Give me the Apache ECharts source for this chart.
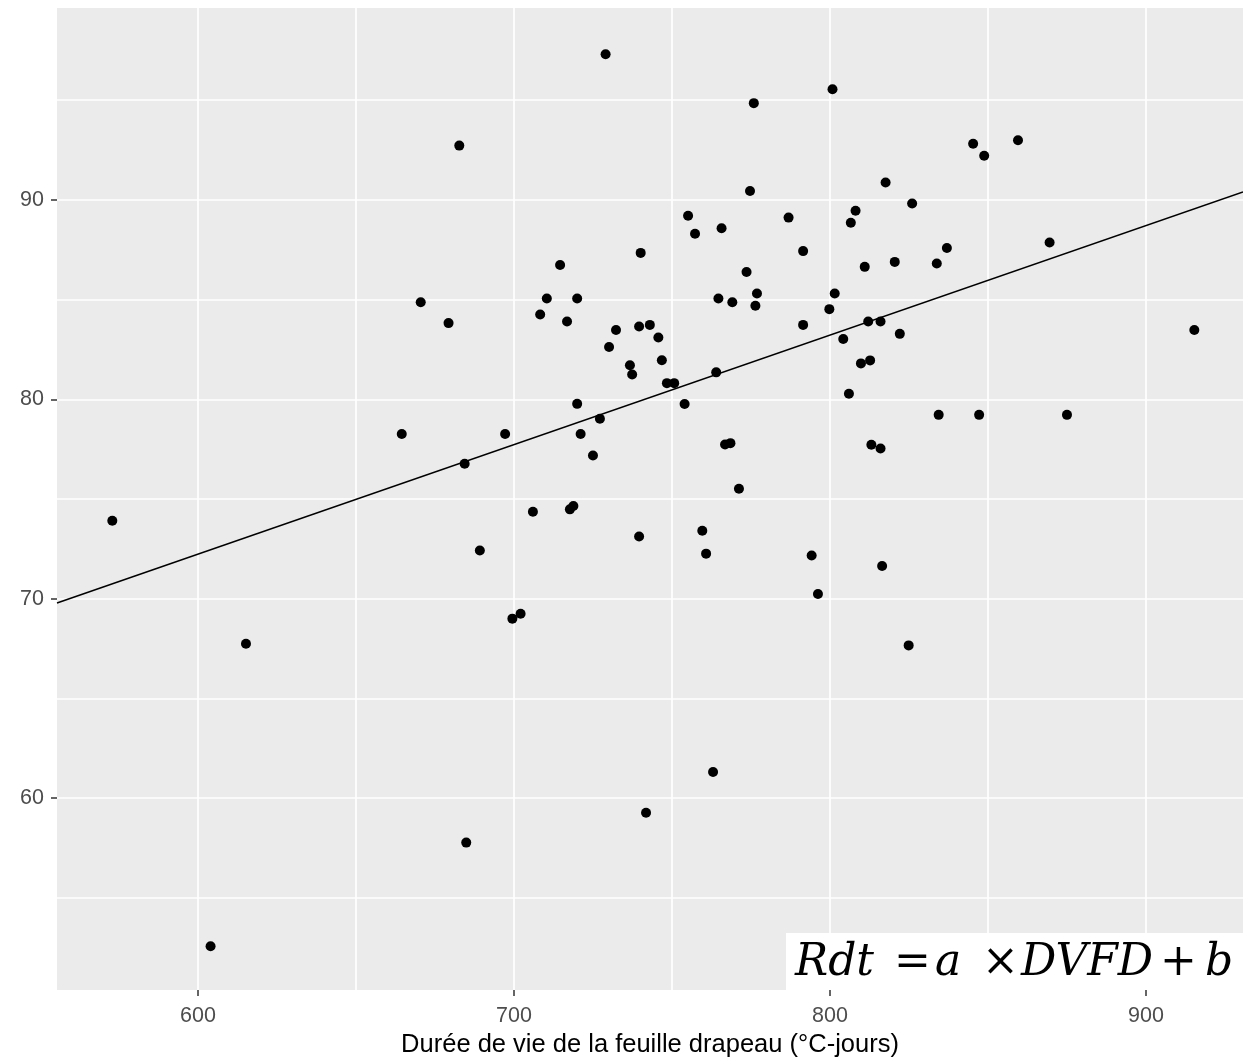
<!DOCTYPE html>
<html>
<head>
<meta charset="utf-8">
<title>Rendement et durée de vie de la feuille drapeau</title>
<script src="https://cdn.jsdelivr.net/npm/echarts@6/dist/echarts.min.js"></script>
<style>
  html, body { margin: 0; padding: 0; background: #ffffff; }
  #chart { width: 1243px; height: 1060px; }
</style>
</head>
<body>
<div id="chart"></div>
<script>
// Durée de vie de la feuille drapeau (°C-jours)
const dvfd = [
  729.0, 682.7, 775.9, 774.7, 755.1, 757.3, 765.7, 786.9, 791.5, 740.1,
  714.6, 773.6, 776.9, 776.4, 764.7, 769.1, 791.5, 670.5, 679.3, 710.4,
  720.0, 708.3, 716.8, 732.3, 739.6, 743.0, 745.7, 730.1, 800.8, 845.3,
  848.8, 859.5, 817.6, 826.0, 808.1, 806.6, 869.5, 837.0, 820.5, 833.8,
  811.0, 801.5, 799.8, 812.1, 816.0, 804.2, 822.1, 915.3, 736.7, 737.4,
  746.8, 748.4, 750.7, 764.0, 754.0, 720.0, 727.2, 721.1, 697.2, 664.5,
  725.0, 684.4, 766.8, 768.5, 771.2, 706.0, 717.7, 718.8, 739.6, 759.6,
  760.8, 794.2, 796.2, 689.2, 702.1, 699.5, 809.8, 812.7, 806.0, 834.4,
  847.2, 875.0, 813.1, 816.0, 816.5, 824.9, 572.9, 615.2, 604.0, 684.9,
  741.8, 763.0
];

// Rendement
const rdt = [
  97.30, 92.72, 94.85, 90.44, 89.20, 88.30, 88.58, 89.11, 87.43, 87.34,
  86.73, 86.38, 85.30, 84.69, 85.05, 84.87, 83.73, 84.87, 83.82, 85.05,
  85.05, 84.25, 83.90, 83.47, 83.65, 83.73, 83.10, 82.62, 95.55, 92.81,
  92.21, 92.99, 90.87, 89.82, 89.45, 88.85, 87.86, 87.59, 86.89, 86.81,
  86.64, 85.30, 84.52, 83.90, 83.90, 83.02, 83.28, 83.47, 81.71, 81.24,
  81.96, 80.81, 80.81, 81.35, 79.76, 79.77, 79.02, 78.26, 78.26, 78.26,
  77.18, 76.77, 77.73, 77.80, 75.51, 74.36, 74.48, 74.65, 73.12, 73.41,
  72.26, 72.17, 70.24, 72.42, 69.25, 69.00, 81.80, 81.95, 80.28, 79.22,
  79.22, 79.22, 77.72, 77.53, 71.64, 67.66, 73.91, 67.74, 52.57, 57.77,
  59.27, 61.31
];

// Droite de régression Rdt = a × DVFD + b
const fitA = 0.05492;
const fitB = 39.28;

// Graduations
const xTicks = [600, 700, 800, 900];
const yTicks = [60, 70, 80, 90];
const xGridValues = [600, 650, 700, 750, 800, 850, 900];
const yGridValues = [55, 60, 65, 70, 75, 80, 85, 90, 95];

// Étendue des axes
const xMin = 555.4, xMax = 930.7;
const yMin = 50.38, yMax = 99.62;

const points = dvfd.map((x, i) => [x, rdt[i]]);
const fitLine = [xMin, xMax].map(x => [x, fitA * x + fitB]);

const gridLines = [
  ...xGridValues.map(v => ({ xAxis: v })),
  ...yGridValues.map(v => ({ yAxis: v }))
];

const sansFont = '"Liberation Sans", Arial, sans-serif';
const mathFont = '"DejaVu Serif", "Liberation Serif", serif';

const chart = echarts.init(document.getElementById('chart'), null, { renderer: 'canvas' });

// Équation affichée dans le coin inférieur droit
const eqParts = [
  { t: 'Rdt', x: 795, italic: true },
  { t: '=', x: 894, italic: false },
  { t: 'a', x: 935, italic: true },
  { t: '\u00d7', x: 982, italic: false },
  { t: 'DVFD', x: 1021, italic: true },
  { t: '+', x: 1160, italic: false },
  { t: 'b', x: 1205, italic: true }
];

const option = {
  animation: false,
  backgroundColor: '#ffffff',
  grid: {
    left: 57, right: 0, top: 8, bottom: 70,
    outerBoundsMode: 'none',
    containLabel: false,
    show: true,
    backgroundColor: '#EBEBEB',
    borderWidth: 0
  },
  xAxis: {
    type: 'value',
    min: xMin, max: xMax,
    name: 'Durée de vie de la feuille drapeau (°C-jours)',
    nameLocation: 'middle',
    nameGap: 40,
    nameTextStyle: { fontFamily: sansFont, fontSize: 25.5, color: '#000000' },
    axisLine: { show: false },
    axisTick: { show: true, length: 6, lineStyle: { color: '#333333', width: 1.5 }, customValues: xTicks },
    axisLabel: { customValues: xTicks, margin: 15, color: '#4D4D4D', fontFamily: sansFont, fontSize: 21.5 },
    splitLine: { show: false }
  },
  yAxis: {
    type: 'value',
    min: yMin, max: yMax,
    axisLine: { show: false },
    axisTick: { show: true, length: 6, lineStyle: { color: '#333333', width: 1.5 }, customValues: yTicks },
    axisLabel: { customValues: yTicks, margin: 13, color: '#4D4D4D', fontFamily: sansFont, fontSize: 21.5 },
    splitLine: { show: false }
  },
  series: [
    {
      // quadrillage blanc du panneau
      type: 'line',
      data: [],
      silent: true,
      z: 1,
      markLine: {
        silent: true,
        z: 1,
        symbol: ['none', 'none'],
        label: { show: false },
        lineStyle: { color: '#ffffff', width: 1.7, type: 'solid' },
        emphasis: { disabled: true },
        data: gridLines
      }
    },
    {
      type: 'scatter',
      data: points,
      symbol: 'circle',
      symbolSize: 10,
      itemStyle: { color: '#000000', opacity: 1 },
      z: 3
    },
    {
      type: 'line',
      data: fitLine,
      showSymbol: false,
      symbol: 'none',
      lineStyle: { color: '#000000', width: 1.5 },
      z: 4
    }
  ],
  graphic: [
    {
      type: 'rect',
      shape: { x: 786, y: 933, width: 457, height: 57 },
      style: { fill: '#ffffff' },
      z: 10
    },
    ...eqParts.map(p => ({
      type: 'text',
      x: p.x,
      y: 964,
      z: 11,
      style: {
        text: p.t,
        fill: '#000000',
        font: (p.italic ? 'italic ' : '') + '44px ' + mathFont,
        verticalAlign: 'middle',
        align: 'left'
      }
    }))
  ]
};

chart.setOption(option);
</script>
</body>
</html>
